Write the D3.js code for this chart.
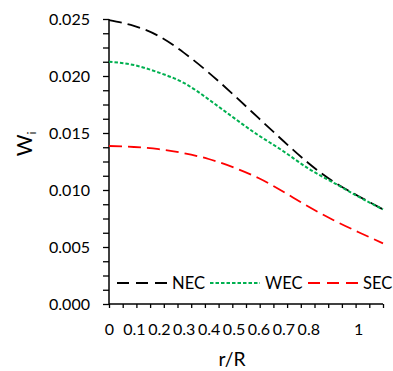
<!DOCTYPE html>
<html>
<head>
<meta charset="utf-8">
<script src="https://cdn.jsdelivr.net/npm/d3@7"></script>
<style>
  html, body { margin: 0; padding: 0; background: #fff; }
  svg { display: block; font-family: Lato, "Open Sans", sans-serif; }
</style>
</head>
<body>
<svg id="chart" width="393" height="371"></svg>
<script>
// ---- data ----
const rR   = [0, 0.1, 0.2, 0.3, 0.4, 0.5, 0.6, 0.7, 0.8, 0.9, 1.0, 1.1];
const NEC  = [0.0249, 0.02440, 0.02350, 0.02205, 0.02030, 0.01835, 0.01632, 0.01430, 0.01237, 0.01075, 0.00948, 0.00830];
const WEC  = [0.02126, 0.02096, 0.02030, 0.01940, 0.01795, 0.01635, 0.01480, 0.01340, 0.01189, 0.01066, 0.00943, 0.00830];
const SEC  = [0.01386, 0.01377, 0.01358, 0.01323, 0.01272, 0.01198, 0.01105, 0.00985, 0.00855, 0.00737, 0.00632, 0.00532];
const seriesNames = ["NEC", "WEC", "SEC"];
const xLabelValues = [0, 0.1, 0.2, 0.3, 0.4, 0.5, 0.6, 0.7, 0.8, 1];
const xLabels = ["0", "0.1", "0.2", "0.3", "0.4", "0.5", "0.6", "0.7", "0.8", "1"];
const yTickValues = [0, 0.005, 0.010, 0.015, 0.020, 0.025];
const yLabels = ["0.000", "0.005", "0.010", "0.015", "0.020", "0.025"];
const xDomain = [0, 1.1];
const yDomain = [0, 0.025];
const xMinorCount = 20;
const yMinorCount = 20;

// ---- layout ----
const mLeft = 109, mRight = 383, mTop = 19, mBottom = 304;
const svg = d3.select("#chart");
const x = d3.scaleLinear().domain(xDomain).range([mLeft, mRight]);
const y = d3.scaleLinear().domain(yDomain).range([mBottom, mTop]);
const FONT = "Lato, 'Open Sans', sans-serif";

// fit a font size so that a sample string has a given width
function fitSize(sample, width) {
  const t = svg.append("text").attr("font-family", FONT).attr("font-size", 100).text(sample);
  const w = t.node().getComputedTextLength();
  t.remove();
  return 100 * width / w;
}
const tickFs = fitSize("0.025", 41);
const legendFs = fitSize("NEC", 33);
const titleFs = fitSize("r/R", 27);

const xMinor = d3.range(xMinorCount + 1).map(i => xDomain[0] + (xDomain[1] - xDomain[0]) * i / xMinorCount);
const yMinor = d3.range(yMinorCount + 1).map(i => yDomain[0] + (yDomain[1] - yDomain[0]) * i / yMinorCount);

// y axis
const yAxisG = svg.append("g").attr("transform", `translate(${mLeft},0)`)
  .call(d3.axisLeft(y).tickValues(yMinor).tickSize(6).tickFormat(""));
yAxisG.select(".domain").remove();
yAxisG.selectAll("line").attr("stroke", "#000").attr("stroke-width", 1.3);

const yLabG = svg.append("g").attr("transform", `translate(${mLeft},0)`)
  .call(d3.axisLeft(y).tickValues(yTickValues).tickSize(0).tickPadding(19)
    .tickFormat((d, i) => yLabels[i]));
yLabG.select(".domain").remove();
yLabG.selectAll("text").attr("font-size", tickFs).attr("fill", "#000")
  .attr("font-family", FONT).attr("dy", "0.36em");

// x axis
const xAxisG = svg.append("g").attr("transform", `translate(0,${mBottom})`)
  .call(d3.axisBottom(x).tickValues(xMinor).tickSize(4).tickFormat(""));
xAxisG.select(".domain").remove();
xAxisG.selectAll("line").attr("stroke", "#000").attr("stroke-width", 1.3);

const xLabG = svg.append("g").attr("transform", `translate(0,${mBottom})`)
  .call(d3.axisBottom(x).tickValues(xLabelValues).tickSize(0)
    .tickFormat((d, i) => xLabels[i]));
xLabG.select(".domain").remove();
xLabG.selectAll("text").attr("font-size", tickFs).attr("fill", "#000")
  .attr("font-family", FONT).attr("y", 31).attr("dy", 0);

// axis lines
svg.append("line").attr("x1", mLeft).attr("x2", mLeft).attr("y1", mTop).attr("y2", mBottom)
  .attr("stroke", "#000").attr("stroke-width", 1.5);
svg.append("line").attr("x1", mLeft).attr("x2", mRight).attr("y1", mBottom).attr("y2", mBottom)
  .attr("stroke", "#000").attr("stroke-width", 1.5);

// series
const styles = {
  NEC: { color: "#000000", dash: "13,6", width: 1.8 },
  WEC: { color: "#00b050", dash: "3.5,2", width: 2 },
  SEC: { color: "#ff0000", dash: "13,6", width: 1.8 }
};
const dataMap = { NEC, WEC, SEC };
const line = d3.line().x((d, i) => x(rR[i])).y(d => y(d)).curve(d3.curveNatural);
seriesNames.forEach(name => {
  svg.append("path").datum(dataMap[name])
    .attr("d", line)
    .attr("fill", "none")
    .attr("stroke", styles[name].color)
    .attr("stroke-width", styles[name].width)
    .attr("stroke-dasharray", styles[name].dash);
});

// legend
const legendY = 283;
const legendStarts = [117, 210, 308];
seriesNames.forEach((name, i) => {
  const lx = legendStarts[i];
  svg.append("line").attr("x1", lx).attr("x2", lx + 50).attr("y1", legendY).attr("y2", legendY)
    .attr("stroke", styles[name].color).attr("stroke-width", styles[name].width)
    .attr("stroke-dasharray", name === "WEC" ? "3.5,2" : "12,7");
  svg.append("text").attr("x", lx + 55).attr("y", legendY).attr("dy", "0.36em")
    .attr("font-family", FONT).attr("font-size", legendFs).attr("fill", "#000").text(name);
});

// axis titles
svg.append("text").attr("x", 232).attr("y", 366)
  .attr("text-anchor", "middle").attr("font-family", FONT).attr("font-size", titleFs)
  .attr("fill", "#000").text("r/R");

const yt = svg.append("text").attr("transform", "translate(32,144) rotate(-90)")
  .attr("text-anchor", "middle").attr("font-family", FONT).attr("font-size", 21).attr("fill", "#000");
yt.append("tspan").text("W");
yt.append("tspan").attr("font-size", 12).attr("dy", 4).text("i");
</script>
</body>
</html>
